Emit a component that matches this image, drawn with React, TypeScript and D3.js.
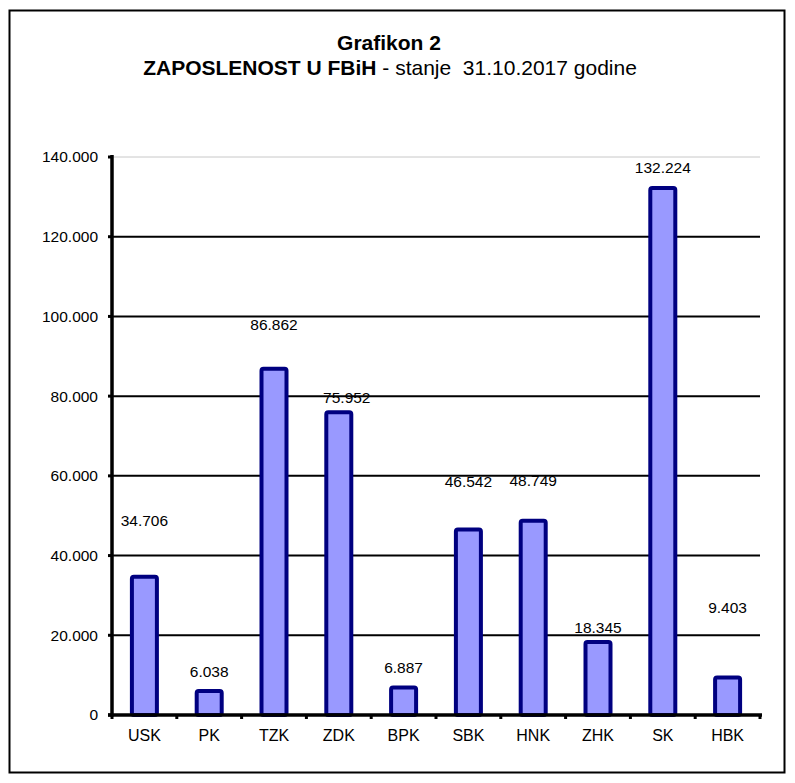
import React from "react";
import * as d3 from "d3";

const categories = ["USK", "PK", "TZK", "ZDK", "BPK", "SBK", "HNK", "ZHK", "SK", "HBK"];
const values = [34706, 6038, 86862, 75952, 6887, 46542, 48749, 18345, 132224, 9403];
const valueLabels = ["34.706", "6.038", "86.862", "75.952", "6.887", "46.542", "48.749", "18.345", "132.224", "9.403"];
const yTicks = [0, 20000, 40000, 60000, 80000, 100000, 120000, 140000];
const yTickLabels = ["0", "20.000", "40.000", "60.000", "80.000", "100.000", "120.000", "140.000"];
// label lift above bar top (px), as placed in the original
const labelLift = [56, 19, 44, 15, 20, 48, 40, 14, 20, 70];
const labelShift = [0, 0, 0, 8, 0, 0, 0, 0, 0, 0];

const W = 795, H = 783;
const left = 112, right = 760, top = 157, bottom = 715;

export default function App() {
  const x = d3.scaleBand<string>().domain(categories).range([left, right]).padding(0);
  const y = d3.scaleLinear().domain([0, 140000]).range([bottom, top]);
  const bw = 25;
  const font = "'Liberation Sans', Arial, sans-serif";
  return (
    <svg width={W} height={H} style={{ position: "absolute", left: 0, top: 0, background: "#fff" }} fontFamily={font}>
      <rect x={9.5} y={10.5} width={775} height={762} fill="#fff" stroke="#000" strokeWidth={2} />
      <text x={389} y={50} textAnchor="middle" fontSize={21} fontWeight="bold">Grafikon 2</text>
      <text x={390} y={75} textAnchor="middle" fontSize={21}>
        <tspan fontWeight="bold">ZAPOSLENOST U FBiH</tspan>
        <tspan>{" - stanje \u00a031.10.2017 godine"}</tspan>
      </text>
      {yTicks.map((t, i) => (
        <g key={t}>
          {t > 0 && (
            <line x1={left} x2={right} y1={y(t)} y2={y(t)}
              stroke={t === 140000 ? "#c8c8c8" : "#000"} strokeWidth={t === 140000 ? 1 : 2} />
          )}
          <line x1={left - 4} x2={left} y1={y(t)} y2={y(t)} stroke="#000" strokeWidth={3} />
          <text x={98} y={y(t)} dy="0.35em" textAnchor="end" fontSize={15.5}>{yTickLabels[i]}</text>
        </g>
      ))}
      {categories.map((c, i) => {
        const cx = x(c)! + x.bandwidth() / 2;
        const yt = y(values[i]);
        return (
          <g key={c}>
            <rect x={cx - bw / 2} y={yt} width={bw} height={bottom - yt} rx={2}
              fill="#9999FF" stroke="#000080" strokeWidth={4} />
            <text x={cx + labelShift[i]} y={yt - labelLift[i]} dy="0.35em" textAnchor="middle" fontSize={15.5}>
              {valueLabels[i]}
            </text>
            <text x={cx} y={735} dy="0.35em" textAnchor="middle" fontSize={16}>{c}</text>
          </g>
        );
      })}
      {d3.range(categories.length + 1).map((i) => {
        const xx = left + i * x.bandwidth();
        return <line key={i} x1={xx} x2={xx} y1={bottom} y2={bottom + 4} stroke="#000" strokeWidth={3} />;
      })}
      <line x1={left} x2={left} y1={top - 2} y2={bottom + 1.5} stroke="#000" strokeWidth={3.5} />
      <line x1={left - 4} x2={right + 2} y1={bottom} y2={bottom} stroke="#000" strokeWidth={3.5} />
    </svg>
  );
}
